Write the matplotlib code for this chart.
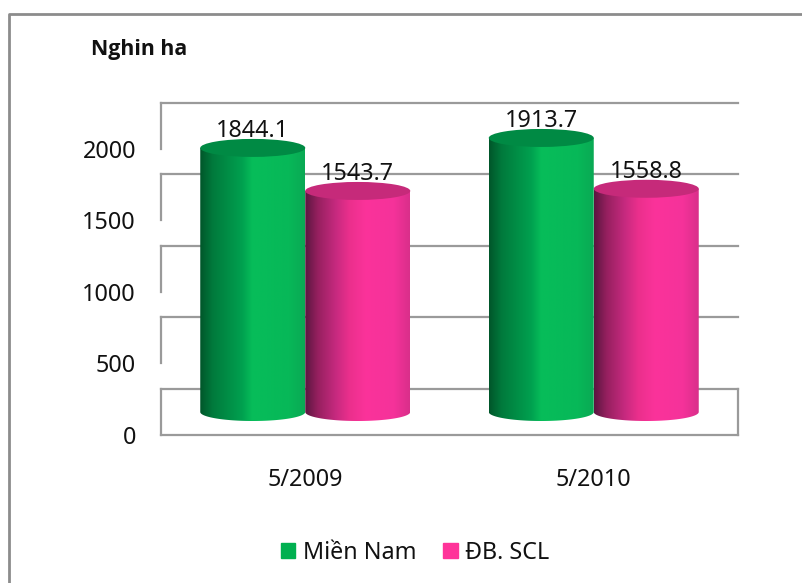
# chart: dien tich lua, Mien Nam / DB. SCL (cylinder columns)
import numpy as np
import matplotlib
matplotlib.use("Agg")
import matplotlib.pyplot as plt
from matplotlib.colors import LinearSegmentedColormap
from matplotlib.lines import Line2D
from matplotlib.patches import Ellipse, PathPatch, Patch
from matplotlib.path import Path

plt.rcParams["font.family"] = ["Noto Sans", "DejaVu Sans"]

# data
categories = ["5/2009", "5/2010"]
series_names = ["Miền Nam", "ĐB. SCL"]
mien_nam = [1844.1, 1913.7]
db_scl = [1543.7, 1558.8]
y_ticks = [0, 500, 1000, 1500, 2000]

W, H = 802, 583
PX_PER_UNIT = 71.6 / 500
DEPTH = 46 / PX_PER_UNIT      # back wall shift, in data units
BAR_W = 105 / 288.5
ELL_H = 18 / PX_PER_UNIT
GRAY = "#9a9a9a"
FS = 16.8

fig = plt.figure(figsize=(W / 100, H / 100), dpi=100)
ax = fig.add_axes([161 / W, (H - 435) / H, 577 / W, 333 / H])
ax.set_facecolor("none")

# outer frame: only top and left show, the rest runs off the picture
fig.add_artist(Line2D([9 / W, 9 / W, 1], [0, 1 - 13.5 / H, 1 - 13.5 / H],
                      transform=fig.transFigure, color="#8c8c8c", lw=2))

# walls and gridlines
for v in y_ticks:
    ax.plot([0, 2], [v + DEPTH, v + DEPTH], color=GRAY, lw=1.6, zorder=1, clip_on=False)
    ax.plot([0, 0], [v + DEPTH, v], color=GRAY, lw=1.6, zorder=1, clip_on=False)
ax.plot([0, 2], [0, 0], color=GRAY, lw=1.6, zorder=1, clip_on=False)
ax.plot([2, 2], [0, DEPTH], color=GRAY, lw=1.6, zorder=1, clip_on=False)

green = LinearSegmentedColormap.from_list("g", [(0, "#00562a"), (0.12, "#007a3c"), (0.4, "#00a04f"),
                                                (0.5, "#07bd5a"), (0.85, "#07b858"), (1, "#0aa954")])
pink = LinearSegmentedColormap.from_list("p", [(0, "#5a1640"), (0.12, "#96205f"), (0.3, "#c82a80"),
                                               (0.42, "#ea2f8c"), (0.58, "#fb339a"), (0.85, "#f5329a"),
                                               (1, "#d92f8a")])


def cylinder(xc, value, cmap, top_color):
    base = DEPTH / 2
    top = base + value
    left, right = xc - BAR_W / 2, xc + BAR_W / 2
    t = np.linspace(np.pi, 2 * np.pi, 60)
    xs = xc + BAR_W / 2 * np.cos(t)
    ys = base + ELL_H / 2 * np.sin(t)
    verts = np.vstack([[[left, top]], np.column_stack([xs, ys]), [[right, top]], [[left, top]]])
    body = PathPatch(Path(verts), fc="none", ec="none", transform=ax.transData)
    ax.add_patch(body)
    im = ax.imshow(np.linspace(0, 1, 256)[None, :], cmap=cmap, aspect="auto", zorder=2,
                   extent=[left, right, base - ELL_H, top], interpolation="bilinear")
    im.set_clip_path(body)
    ax.add_patch(Ellipse((xc, top), BAR_W, ELL_H, fc=top_color, ec="none", zorder=3))
    ax.annotate(f"{value:.1f}", (xc, top), xytext=(0, 17), textcoords="offset pixels",
                ha="center", va="center", fontsize=FS, color="#111111", zorder=5)


for i, cat in enumerate(categories):
    cylinder(i + 0.5 - BAR_W / 2, mien_nam[i], green, "#008a44")
    cylinder(i + 0.5 + BAR_W / 2, db_scl[i], pink, "#c62a7a")

ax.set_xlim(0, 2)
ax.set_ylim(0, 333 / PX_PER_UNIT)
ax.set_xticks([0.5, 1.5], categories)
ax.set_yticks(y_ticks)
ax.tick_params(axis="both", length=0, labelsize=FS, labelcolor="#111111")
ax.tick_params(axis="y", pad=18)
ax.tick_params(axis="x", pad=24)
for s in ax.spines.values():
    s.set_visible(False)

fig.text(91 / W, 1 - 50 / H, "Nghin ha", fontsize=15.4, fontweight="bold", va="center",
         family="Open Sans", color="#111111")

handles = [Patch(color="#00b050"), Patch(color="#ff3399")]
fig.legend(handles, series_names, loc="center", bbox_to_anchor=(415 / W, 1 - 553 / H), ncol=2,
           frameon=False, fontsize=FS, handlelength=0.62, handleheight=0.62, handletextpad=0.32,
           columnspacing=1.15, labelcolor="#111111")

fig.savefig("out.png", dpi=100)
